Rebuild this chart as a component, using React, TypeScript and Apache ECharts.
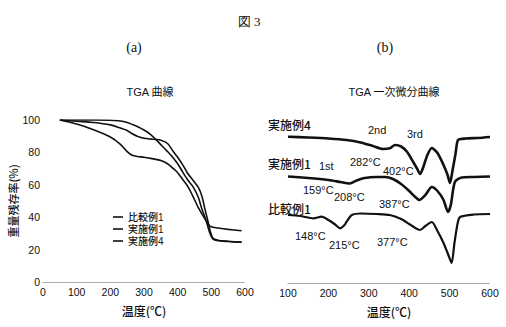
import React, { useEffect, useRef } from "react";
import * as echarts from "echarts";

// ---- (a) TGA curves ----
const tgaTemps = [50, 100, 150, 200, 230, 250, 265, 280, 300, 320, 335, 350, 370, 387, 400, 416, 430, 445, 461, 472, 481, 490, 496, 505, 520, 550, 590];
const tgaHikaku1 = [100, 97.5, 94, 89.5, 85, 80.5, 78.2, 77.5, 77, 76.3, 75.7, 75, 73, 70, 67.5, 63, 59, 53, 46, 42, 39, 36, 34.5, 33.8, 33.3, 32.5, 31.6];
const tgaJisshi1 = [100, 99.2, 98.5, 97, 95, 93.5, 91.5, 90, 88.7, 88.2, 88, 87.5, 85.5, 80.5, 77, 72, 67, 63, 58.5, 53, 45, 37.5, 32, 27, 25.8, 25.2, 24.5];
const tgaJisshi4 = [100, 100, 100, 99.8, 99.4, 98.5, 97.3, 96, 93.8, 91, 88, 84.8, 80.5, 76.6, 73, 67.5, 63, 59, 52.5, 45, 40, 34, 30, 26.5, 25.5, 25, 24.5];
const tgaNames = ["比較例1", "実施例1", "実施例4"];
const tgaYTicks = [0, 20, 40, 60, 80, 100];

// ---- (b) DTG curves (vertically offset, arbitrary units) ----
const dtgTemps4 = [100, 150, 200, 245, 280, 310, 335, 352, 365, 380, 395, 410, 420, 427, 435, 445, 456, 470, 485, 495, 501, 507, 515, 521, 540, 570, 600];
const dtgJisshi4 = [146.3, 145.5, 144.5, 143, 140.5, 137, 134, 134.7, 138, 136.5, 131, 121, 114, 109, 116, 128, 135, 130, 118, 108, 100, 112, 130, 143, 144.5, 145, 146];
const dtgTemps1 = [100, 150, 200, 230, 253, 270, 290, 320, 340, 360, 380, 400, 415, 425, 440, 456, 470, 485, 496, 503, 513, 530, 560, 600];
const dtgJisshi1 = [106.5, 105, 103, 101, 99.5, 102.5, 105, 106, 106, 104, 99, 92, 86, 83, 88, 96, 92, 83, 71, 78, 101, 105.5, 106, 106.5];
const dtgTempsH = [100, 130, 163, 183, 200, 215, 229, 240, 245, 258, 280, 320, 352, 380, 400, 415, 427, 440, 456, 470, 485, 497, 505, 512, 520, 526, 560, 600];
const dtgHikaku1 = [68, 67, 64.7, 66.3, 63, 59, 54.7, 58, 61.3, 68, 69.5, 69, 68, 64, 59, 55, 53, 57, 61, 52, 40, 28, 20, 40, 60, 66, 68.5, 69];

// annotation texts of panel (b)
const sampleLabels = ["実施例4", "実施例1", "比較例1"];
const stepLabels = ["1st", "2nd", "3rd"];
const peakLabels = ["282°C", "402°C", "159°C", "208°C", "387°C", "148°C", "215°C", "377°C"];

const zip = (xs: number[], ys: number[]) => xs.map((x, i) => [x, ys[i]]);

export default function App() {
  const ref = useRef<HTMLDivElement>(null);
  useEffect(() => {
    if (!ref.current) return;
    const chart = echarts.init(ref.current, undefined, { renderer: "svg" });
    const ink = "#111";
    const sans = "'Liberation Sans', Arial, 'Noto Sans CJK JP', sans-serif";
    const cjk = "'Noto Sans CJK JP', sans-serif";
    const serif = "'Liberation Serif', 'DejaVu Serif', serif";
    const axisLabel = { color: ink, fontSize: 10.5, fontFamily: sans, margin: 5 };
    const dotted = { show: true, lineStyle: { color: "#9a9a9a", type: "dotted" as const, width: 1 } };

    const txt = (x: number, y: number, text: string, font: string, align = "left") => ({
      type: "text",
      x,
      y,
      style: { text, font, fill: ink, textAlign: align, textVerticalAlign: "middle" },
    });
    const lblFont = `500 12px ${cjk}`;
    const numFont = `11px ${sans}`;
    const legFont = `500 10px ${sans}`;
    const legRows = [217, 229, 241];

    const legendGraphics: any[] = [];
    tgaNames.forEach((n, i) => {
      legendGraphics.push({
        type: "line",
        shape: { x1: 113, y1: legRows[i], x2: 123, y2: legRows[i] },
        style: { stroke: ink, lineWidth: 1.6 },
      });
      legendGraphics.push(txt(128, legRows[i], n, legFont));
    });

    const option: any = {
      animation: false,
      backgroundColor: "#fff",
      title: [
        { text: "図 3", left: 244, top: 10, textAlign: "center", textStyle: { fontSize: 13, fontWeight: "normal", color: ink, fontFamily: serif } },
        { text: "(a)", left: 129, top: 35, textAlign: "center", textStyle: { fontSize: 14, fontWeight: "normal", color: ink, fontFamily: serif } },
        { text: "(b)", left: 380, top: 35, textAlign: "center", textStyle: { fontSize: 14, fontWeight: "normal", color: ink, fontFamily: serif } },
        { text: "TGA 曲線", left: 145, top: 81, textAlign: "center", textStyle: { fontSize: 11, fontWeight: "normal", color: ink, fontFamily: sans } },
        { text: "TGA 一次微分曲線", left: 389, top: 81, textAlign: "center", textStyle: { fontSize: 11, fontWeight: "normal", color: ink, fontFamily: sans } },
      ],
      grid: [
        { left: 43, right: 261, top: 120, bottom: 45 },
        { left: 288, right: 16, top: 103, bottom: 44 },
      ],
      xAxis: [
        {
          gridIndex: 0, type: "value", min: 0, max: 600, interval: 100,
          axisLine: dotted, axisTick: { show: false }, splitLine: { show: false }, axisLabel,
          name: "温度(℃)", nameLocation: "middle", nameGap: 22,
          nameTextStyle: { color: ink, fontSize: 12, fontFamily: cjk, fontWeight: 500 },
        },
        {
          gridIndex: 1, type: "value", min: 100, max: 600, interval: 100,
          axisLine: dotted, axisTick: { show: false }, splitLine: { show: false }, axisLabel,
          name: "温度(℃)", nameLocation: "middle", nameGap: 22,
          nameTextStyle: { color: ink, fontSize: 12, fontFamily: cjk, fontWeight: 500 },
        },
      ],
      yAxis: [
        {
          gridIndex: 0, type: "value", min: tgaYTicks[0], max: tgaYTicks[tgaYTicks.length - 1], interval: 20,
          axisLine: { show: false }, axisTick: { show: false }, splitLine: { show: false },
          axisLabel: { ...axisLabel, margin: 3 },
          name: "重量残存率(%)", nameLocation: "middle", nameGap: 20, nameRotate: 90,
          nameTextStyle: { color: ink, fontSize: 11, fontFamily: cjk, fontWeight: 500 },
        },
        { gridIndex: 1, type: "value", min: 0, max: 180, show: false },
      ],
      series: [
        { name: tgaNames[0], type: "line", xAxisIndex: 0, yAxisIndex: 0, data: zip(tgaTemps, tgaHikaku1), smooth: 0.3, showSymbol: false, lineStyle: { color: ink, width: 1.6 } },
        { name: tgaNames[1], type: "line", xAxisIndex: 0, yAxisIndex: 0, data: zip(tgaTemps, tgaJisshi1), smooth: 0.3, showSymbol: false, lineStyle: { color: ink, width: 1.6 } },
        { name: tgaNames[2], type: "line", xAxisIndex: 0, yAxisIndex: 0, data: zip(tgaTemps, tgaJisshi4), smooth: 0.3, showSymbol: false, lineStyle: { color: ink, width: 1.6 } },
        { name: "dtg4", type: "line", xAxisIndex: 1, yAxisIndex: 1, data: zip(dtgTemps4, dtgJisshi4), smooth: 0.25, showSymbol: false, lineStyle: { color: ink, width: 2.6 } },
        { name: "dtg1", type: "line", xAxisIndex: 1, yAxisIndex: 1, data: zip(dtgTemps1, dtgJisshi1), smooth: 0.25, showSymbol: false, lineStyle: { color: ink, width: 2.6 } },
        { name: "dtgH", type: "line", xAxisIndex: 1, yAxisIndex: 1, data: zip(dtgTempsH, dtgHikaku1), smooth: 0.25, showSymbol: false, lineStyle: { color: ink, width: 2.2 } },
      ],
      graphic: [
        ...legendGraphics,
        txt(268, 124, sampleLabels[0], lblFont),
        txt(268, 163, sampleLabels[1], lblFont),
        txt(268, 208, sampleLabels[2], lblFont),
        txt(319, 166, stepLabels[0], numFont),
        txt(368, 130, stepLabels[1], numFont),
        txt(407, 134, stepLabels[2], numFont),
        txt(350, 162, peakLabels[0], numFont),
        txt(383, 171, peakLabels[1], numFont),
        txt(303, 190, peakLabels[2], numFont),
        txt(334, 197, peakLabels[3], numFont),
        txt(379, 204, peakLabels[4], numFont),
        txt(295, 236, peakLabels[5], numFont),
        txt(329, 245, peakLabels[6], numFont),
        txt(377, 242, peakLabels[7], numFont),
      ],
    };
    chart.setOption(option);
    return () => chart.dispose();
  }, []);
  return <div ref={ref} style={{ width: 506, height: 327, position: "absolute", left: 0, top: 0 }} />;
}
